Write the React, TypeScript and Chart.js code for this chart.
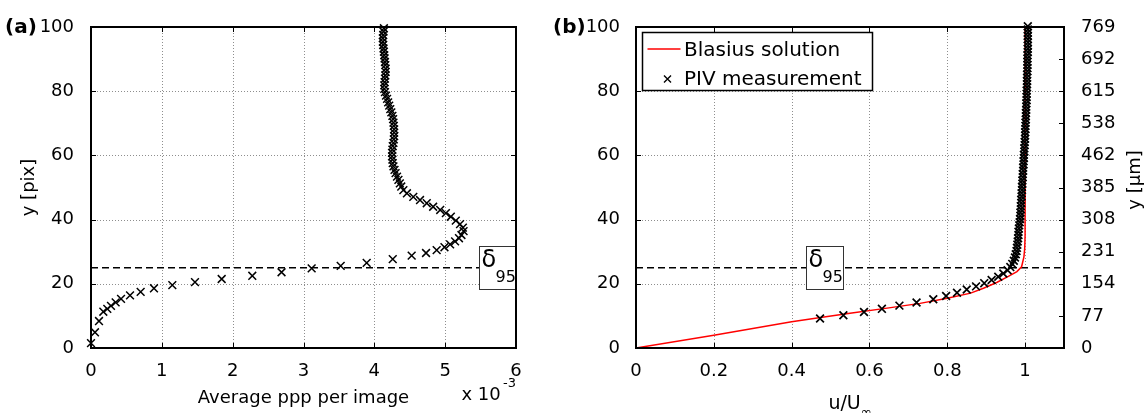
import React, { useEffect, useRef } from "react";
import { Chart, registerables } from "chart.js";

Chart.register(...registerables);

const FONT = "'DejaVu Sans', 'Liberation Sans', sans-serif";

// ---------- Panel (a): average ppp per image (x 10^-3) vs y [pix] ----------
const pppY = [
  1.5, 4.9, 8.4, 11.3, 12.2, 13.1, 14.2, 15.3, 16.4, 17.5,
  18.6, 19.6, 20.5, 21.5, 22.5, 23.6, 24.8, 25.6, 26.5, 27.7,
  28.8, 29.6, 30.5, 31.4, 32.3, 33.2, 34.2, 35.2, 36.4, 37.5,
  38.6, 39.7, 40.9, 42.0, 43.0, 44.0, 45.1, 46.1, 47.1, 48.2,
  49.2, 50.3, 51.3, 52.4, 53.4, 54.5, 55.5, 56.6, 57.6, 58.7,
  59.7, 60.8, 61.8, 62.9, 63.9, 65.0, 66.0, 67.1, 68.1, 69.2,
  70.2, 71.3, 72.3, 73.4, 74.4, 75.5, 76.5, 77.6, 78.6, 79.7,
  80.7, 81.8, 82.8, 83.9, 84.9, 86.0, 87.0, 88.1, 89.1, 90.2,
  91.2, 92.3, 93.3, 94.4, 95.4, 96.5, 97.5, 98.6, 99.6,
];
const pppX = [
  0.0, 0.056, 0.113, 0.174, 0.23, 0.282, 0.348, 0.424, 0.551, 0.701,
  0.889, 1.148, 1.468, 1.845, 2.277, 2.69, 3.115, 3.525, 3.892, 4.26,
  4.527, 4.73, 4.88, 4.99, 5.07, 5.14, 5.195, 5.23, 5.26, 5.25,
  5.21, 5.15, 5.08, 5.01, 4.93, 4.83, 4.74, 4.645, 4.55, 4.46,
  4.41, 4.38, 4.36, 4.34, 4.32, 4.3, 4.285, 4.27, 4.26, 4.255,
  4.25, 4.25, 4.255, 4.26, 4.27, 4.275, 4.28, 4.28, 4.28, 4.275,
  4.27, 4.265, 4.255, 4.24, 4.225, 4.21, 4.195, 4.18, 4.165, 4.15,
  4.14, 4.14, 4.145, 4.15, 4.155, 4.16, 4.16, 4.155, 4.15, 4.145,
  4.14, 4.135, 4.13, 4.125, 4.12, 4.12, 4.125, 4.13, 4.135,
];
const aXTicks = [0, 1, 2, 3, 4, 5, 6];
const aYTicks = [0, 20, 40, 60, 80, 100];

// ---------- Panel (b): u/U_inf vs y ----------
const pivY = [
  9.2, 10.2, 11.2, 12.2, 13.2, 14.2, 15.2, 16.2, 17.2, 18.2,
  19.2, 20.2, 21.2, 22.2, 23.2, 24.2, 25.2, 26.2, 27.2, 28.2,
  29.2, 30.2, 31.2, 32.2, 33.2, 34.2, 35.2, 36.2, 37.2, 38.2,
  39.2, 40.2, 41.2, 42.2, 43.2, 44.2, 45.2, 46.2, 47.2, 48.2,
  49.2, 50.2, 51.2, 52.2, 53.2, 54.2, 55.2, 56.2, 57.2, 58.2,
  59.2, 60.2, 61.2, 62.2, 63.2, 64.2, 65.2, 66.2, 67.2, 68.2,
  69.2, 70.2, 71.2, 72.2, 73.2, 74.2, 75.2, 76.2, 77.2, 78.2,
  79.2, 80.2, 81.2, 82.2, 83.2, 84.2, 85.2, 86.2, 87.2, 88.2,
  89.2, 90.2, 91.2, 92.2, 93.2, 94.2, 95.2, 96.2, 97.2, 98.2,
  99.2, 100.2,
];
const pivU = [
  0.473, 0.533, 0.586, 0.632, 0.677, 0.721, 0.764, 0.797, 0.825, 0.85,
  0.874, 0.895, 0.914, 0.931, 0.944, 0.955, 0.962, 0.967, 0.971, 0.974,
  0.976, 0.978, 0.979, 0.98, 0.981, 0.982, 0.983, 0.983, 0.984, 0.985,
  0.986, 0.987, 0.988, 0.988, 0.989, 0.989, 0.99, 0.99, 0.991, 0.991,
  0.992, 0.992, 0.993, 0.993, 0.994, 0.994, 0.995, 0.995, 0.996, 0.996,
  0.997, 0.997, 0.998, 0.998, 0.999, 0.999, 1.0, 1.0, 1.0, 1.001,
  1.001, 1.001, 1.002, 1.002, 1.002, 1.003, 1.003, 1.003, 1.004, 1.004,
  1.004, 1.004, 1.005, 1.005, 1.005, 1.005, 1.005, 1.006, 1.006, 1.006,
  1.006, 1.006, 1.006, 1.007, 1.007, 1.007, 1.007, 1.007, 1.007, 1.007,
  1.007, 1.007,
];
const blasiusU = [0, 0.2, 0.4, 0.47, 0.55, 0.65, 0.73, 0.8, 0.86, 0.893, 0.927, 0.957, 0.979, 0.991, 0.997, 0.999, 1.0, 1.0];
const blasiusY = [0, 4.0, 8.2, 9.4, 10.8, 12.5, 13.9, 15.5, 17.1, 18.6, 20.4, 22.3, 23.8, 25.3, 28.4, 31, 35, 100];
const bXTicks = [0, 0.2, 0.4, 0.6, 0.8, 1];
const bYTicks = [0, 20, 40, 60, 80, 100];
const bY2Ticks = [0, 10, 20, 30, 40, 50, 60, 70, 80, 90, 100];
const bY2Labels = ["0", "77", "154", "231", "308", "385", "462", "538", "615", "692", "769"];

const delta95 = 25;
const legendLabels = ["Blasius solution", "PIV measurement"];

// ---------- drawing helpers ----------
function font(size: number, bold = false) {
  return `${bold ? "bold " : ""}${size}px ${FONT}`;
}

function text(ctx: CanvasRenderingContext2D, s: string, x: number, y: number, size: number, o: any = {}) {
  ctx.save();
  ctx.font = font(size, o.bold);
  ctx.fillStyle = "#000";
  ctx.textAlign = o.align || "left";
  ctx.textBaseline = o.baseline || "alphabetic";
  if (o.rotate) {
    ctx.translate(x, y);
    ctx.rotate(o.rotate);
    ctx.fillText(s, 0, 0);
  } else {
    ctx.fillText(s, x, y);
  }
  ctx.restore();
}

function drawGrid(chart: any) {
  const { ctx, chartArea: ca, scales } = chart;
  ctx.save();
  ctx.strokeStyle = "#8e8e8e";
  ctx.lineWidth = 1;
  ctx.setLineDash([1, 2]);
  ctx.beginPath();
  scales.x.ticks.forEach((t: any) => {
    if (t.value <= scales.x.min || t.value >= scales.x.max) return;
    const p = Math.round(scales.x.getPixelForValue(t.value)) + 0.5;
    ctx.moveTo(p, ca.top);
    ctx.lineTo(p, ca.bottom);
  });
  scales.y.ticks.forEach((t: any) => {
    if (t.value <= scales.y.min || t.value >= scales.y.max) return;
    const p = Math.round(scales.y.getPixelForValue(t.value)) + 0.5;
    ctx.moveTo(ca.left, p);
    ctx.lineTo(ca.right, p);
  });
  ctx.stroke();
  ctx.restore();
}

function drawTickMarks(chart: any, rightId: string) {
  const { ctx, chartArea: ca, scales } = chart;
  const sr = scales[rightId] || scales.y;
  const L = 5;
  ctx.save();
  ctx.strokeStyle = "#000";
  ctx.lineWidth = 1;
  ctx.beginPath();
  scales.x.ticks.forEach((t: any) => {
    const p = Math.round(scales.x.getPixelForValue(t.value)) + 0.5;
    ctx.moveTo(p, ca.bottom);
    ctx.lineTo(p, ca.bottom - L);
    ctx.moveTo(p, ca.top);
    ctx.lineTo(p, ca.top + L);
  });
  scales.y.ticks.forEach((t: any) => {
    const p = Math.round(scales.y.getPixelForValue(t.value)) + 0.5;
    ctx.moveTo(ca.left, p);
    ctx.lineTo(ca.left + L, p);
  });
  sr.ticks.forEach((t: any) => {
    const p = Math.round(sr.getPixelForValue(t.value)) + 0.5;
    ctx.moveTo(ca.right, p);
    ctx.lineTo(ca.right - L, p);
  });
  ctx.stroke();
  ctx.restore();
}

function drawFrame(chart: any) {
  const { ctx, chartArea: ca } = chart;
  ctx.save();
  ctx.strokeStyle = "#000";
  ctx.lineWidth = 2;
  ctx.strokeRect(ca.left, ca.top, ca.right - ca.left, ca.bottom - ca.top);
  ctx.restore();
}

function drawDeltaBox(ctx: CanvasRenderingContext2D, left: number, cy: number) {
  const w = 37;
  const h = 43;
  const top = Math.round(cy - 21.5) + 0.5;
  const l = Math.round(left) + 0.5;
  ctx.save();
  ctx.fillStyle = "#fff";
  ctx.fillRect(l, top, w, h);
  ctx.strokeStyle = "#333";
  ctx.lineWidth = 1;
  ctx.strokeRect(l, top, w, h);
  ctx.restore();
  text(ctx, "δ", l + 2, top + 20, 24);
  text(ctx, "95", l + 16, top + 35, 16);
}

function tickFont() {
  return { family: FONT, size: 18 };
}

function fixedTicks(values: number[]) {
  return (s: any) => {
    s.ticks = values.map((v) => ({ value: v }));
  };
}

const panelAPlugin = {
  id: "panelA",
  beforeDatasetsDraw(chart: any) {
    drawGrid(chart);
  },
  afterDatasetsDraw(chart: any) {
    const { ctx, chartArea: ca, scales } = chart;
    drawTickMarks(chart, "y");
    drawDeltaBox(ctx, ca.right - 37, scales.y.getPixelForValue(delta95));
  },
  afterDraw(chart: any) {
    const { ctx, chartArea: ca } = chart;
    drawFrame(chart);
    text(ctx, "(a)", 5, 33, 20, { bold: true });
    text(ctx, "y [pix]", 29, (ca.top + ca.bottom) / 2, 18, { rotate: -Math.PI / 2, align: "center", baseline: "middle" });
    text(ctx, "Average ppp per image", (ca.left + ca.right) / 2, 403, 18, { align: "center" });
    text(ctx, "x 10", 461.5, 400, 18);
    text(ctx, "-3", 503, 387, 13);
  },
};

const panelBPlugin = {
  id: "panelB",
  beforeDatasetsDraw(chart: any) {
    drawGrid(chart);
  },
  afterDatasetsDraw(chart: any) {
    const { ctx, chartArea: ca, scales } = chart;
    drawTickMarks(chart, "y2");
    drawDeltaBox(ctx, scales.x.getPixelForValue(0.485) - 18.5, scales.y.getPixelForValue(delta95));
    // legend
    const lx = Math.round(ca.left + 6) + 0.5;
    const ly = Math.round(ca.top + 5) + 0.5;
    ctx.save();
    ctx.fillStyle = "#fff";
    ctx.fillRect(lx, ly, 230, 58);
    ctx.strokeStyle = "#000";
    ctx.lineWidth = 1.5;
    ctx.strokeRect(lx, ly, 230, 58);
    ctx.strokeStyle = "#ff0000";
    ctx.lineWidth = 1.5;
    ctx.beginPath();
    ctx.moveTo(lx + 5, ly + 16.5);
    ctx.lineTo(lx + 38, ly + 16.5);
    ctx.stroke();
    ctx.strokeStyle = "#000";
    ctx.lineWidth = 1.4;
    const mx = lx + 25;
    const my = ly + 46.5;
    ctx.beginPath();
    ctx.moveTo(mx - 3.5, my - 3.5);
    ctx.lineTo(mx + 3.5, my + 3.5);
    ctx.moveTo(mx - 3.5, my + 3.5);
    ctx.lineTo(mx + 3.5, my - 3.5);
    ctx.stroke();
    ctx.restore();
    text(ctx, legendLabels[0], lx + 41.5, ly + 23.5, 20);
    text(ctx, legendLabels[1], lx + 41.5, ly + 52.5, 20);
  },
  afterDraw(chart: any) {
    const { ctx, chartArea: ca } = chart;
    drawFrame(chart);
    text(ctx, "(b)", 13, 33, 20, { bold: true });
    ctx.save();
    ctx.font = font(19);
    const w1 = ctx.measureText("u/U").width;
    ctx.font = font(13);
    const w2 = ctx.measureText("∞").width;
    ctx.restore();
    const sx = (ca.left + ca.right) / 2 - (w1 + w2) / 2;
    text(ctx, "u/U", sx, 409, 19);
    text(ctx, "∞", sx + w1, 416, 13);
    text(ctx, "y [μm]", 595, 180, 18, { rotate: -Math.PI / 2, align: "center", baseline: "middle" });
  },
};

export default function App() {
  const aRef = useRef<HTMLCanvasElement>(null);
  const bRef = useRef<HTMLCanvasElement>(null);

  useEffect(() => {
    Chart.defaults.font.family = FONT;
    Chart.defaults.color = "#000";

    const chartA = new Chart(aRef.current as HTMLCanvasElement, {
      type: "scatter",
      data: {
        datasets: [
          {
            data: pppX.map((x, i) => ({ x, y: pppY[i] })),
            showLine: false,
            pointStyle: "crossRot",
            pointRadius: 5.5,
            pointBorderWidth: 1.5,
            borderWidth: 1.5,
            borderColor: "#000",
            backgroundColor: "#000",
            clip: false,
          } as any,
          {
            data: [
              { x: 0, y: delta95 },
              { x: 6, y: delta95 },
            ],
            showLine: true,
            borderColor: "#000",
            borderWidth: 1.5,
            borderDash: [7, 4],
            pointRadius: 0,
          } as any,
        ],
      },
      options: {
        responsive: false,
        animation: false,
        events: [],
        layout: { padding: { top: 27, right: 24, left: 0, bottom: 0 } },
        plugins: { legend: { display: false }, tooltip: { enabled: false } },
        scales: {
          x: {
            type: "linear",
            min: 0,
            max: 6,
            afterBuildTicks: fixedTicks(aXTicks),
            afterFit: (s: any) => {
              s.height = 65;
            },
            grid: { display: false },
            border: { display: false },
            ticks: { font: tickFont(), color: "#000", padding: 5, maxRotation: 0, callback: (v: any) => String(v) },
          },
          y: {
            type: "linear",
            min: 0,
            max: 100,
            afterBuildTicks: fixedTicks(aYTicks),
            afterFit: (s: any) => {
              s.width = 91;
            },
            grid: { display: false },
            border: { display: false },
            ticks: { font: tickFont(), color: "#000", padding: 9, callback: (v: any) => String(v) },
          },
        },
      } as any,
      plugins: [panelAPlugin],
    });

    const chartB = new Chart(bRef.current as HTMLCanvasElement, {
      type: "scatter",
      data: {
        datasets: [
          {
            data: pivU.map((x, i) => ({ x, y: pivY[i] })),
            showLine: false,
            pointStyle: "crossRot",
            pointRadius: 5.5,
            pointBorderWidth: 1.7,
            borderWidth: 1.7,
            borderColor: "#000",
            backgroundColor: "#000",
            clip: false,
          } as any,
          {
            data: blasiusU.map((x, i) => ({ x, y: blasiusY[i] })),
            showLine: true,
            borderColor: "#ff0000",
            borderWidth: 1.5,
            pointRadius: 0,
          } as any,
          {
            data: [
              { x: 0, y: delta95 },
              { x: 1.1, y: delta95 },
            ],
            showLine: true,
            borderColor: "#000",
            borderWidth: 1.5,
            borderDash: [7, 4],
            pointRadius: 0,
          } as any,
        ],
      },
      options: {
        responsive: false,
        animation: false,
        events: [],
        layout: { padding: { top: 27, right: 0, left: 0, bottom: 0 } },
        plugins: { legend: { display: false }, tooltip: { enabled: false } },
        scales: {
          x: {
            type: "linear",
            min: 0,
            max: 1.1,
            afterBuildTicks: fixedTicks(bXTicks),
            afterFit: (s: any) => {
              s.height = 65;
            },
            grid: { display: false },
            border: { display: false },
            ticks: { font: tickFont(), color: "#000", padding: 5, maxRotation: 0, callback: (v: any) => String(v) },
          },
          y: {
            type: "linear",
            min: 0,
            max: 100,
            afterBuildTicks: fixedTicks(bYTicks),
            afterFit: (s: any) => {
              s.width = 96;
            },
            grid: { display: false },
            border: { display: false },
            ticks: { font: tickFont(), color: "#000", padding: 8, callback: (v: any) => String(v) },
          },
          y2: {
            type: "linear",
            position: "right",
            min: 0,
            max: 100,
            afterBuildTicks: fixedTicks(bY2Ticks),
            afterFit: (s: any) => {
              s.width = 82;
            },
            grid: { display: false },
            border: { display: false },
            ticks: { font: tickFont(), color: "#000", padding: 9, callback: (_v: any, i: number) => bY2Labels[i] ?? "" },
          },
        },
      } as any,
      plugins: [panelBPlugin],
    });

    return () => {
      chartA.destroy();
      chartB.destroy();
    };
  }, []);

  return (
    <div style={{ position: "absolute", left: 0, top: 0, width: 1146, height: 413, background: "#fff", overflow: "hidden" }}>
      <canvas ref={aRef} width={540} height={413} style={{ position: "absolute", left: 0, top: 0 }} />
      <canvas ref={bRef} width={606} height={413} style={{ position: "absolute", left: 540, top: 0 }} />
    </div>
  );
}
